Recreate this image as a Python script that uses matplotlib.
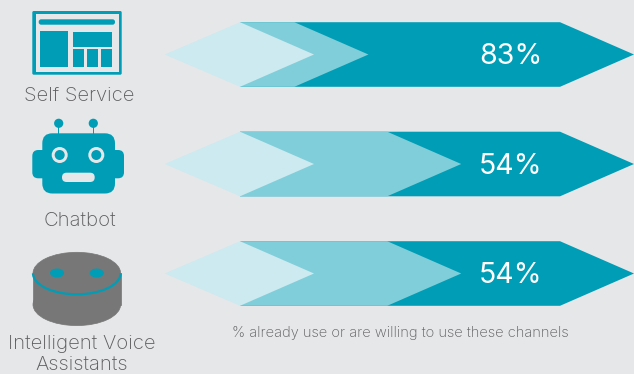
import matplotlib
matplotlib.use("Agg")
import matplotlib.pyplot as plt
from matplotlib.patches import Polygon, Rectangle, FancyBboxPatch, Circle, Ellipse, Arc

# chart data
channels = ["Self Service", "Chatbot", "Intelligent Voice\nAssistants"]
percent_use = [83, 54, 54]
note = "% already use or are willing to use these channels"

BG = "#e6e7e9"
DARK = "#009db6"
MID = "#80ced9"
LIGHT = "#cceaf0"
GREY = "#777777"
TEXT = "#5c5c5e"
FONT = "Inter"

W, H = 634, 374
fig = plt.figure(figsize=(W / 100, H / 100), dpi=100, facecolor=BG)

# pixel axes for the icons and labels
px = fig.add_axes([0, 0, 1, 1])
px.set_xlim(0, W)
px.set_ylim(H, 0)
px.axis("off")

# percent axes for the arrows: 0 is the tip of the pale arrow, 100 the right edge
UNIT = 3.2
bar = fig.add_axes([0, 0, 1, 1])
bar.set_xlim(-314 / UNIT, 100)
bar.set_ylim(H, 0)
bar.axis("off")
bar.patch.set_alpha(0)

centers = [54.5, 164, 273.5]
half_h = 32.3
head = 74 / UNIT
tail = 240 / UNIT - 314 / UNIT


def arrow(y, tip, color, point_left=False):
    pts = [(tail, y - half_h), (tip - head, y - half_h), (tip, y),
           (tip - head, y + half_h), (tail, y + half_h)]
    if point_left:
        pts.append((tail - head - 0.4, y))
    bar.add_patch(Polygon(pts, closed=True, fc=color, ec="none"))


for y, v in zip(centers, percent_use):
    arrow(y, 100, DARK)
    arrow(y, 100 - v, MID)
    arrow(y, 0, LIGHT, point_left=True)
    # value label sits in the dark part
    bar.text((511 - 314) / UNIT, y + 2, f"{v}%", color="white", fontsize=20.5,
             family=FONT, weight="normal", ha="center", va="center")


def rbox(x0, y0, x1, y1, r, color):
    px.add_patch(FancyBboxPatch((x0 + r, y0 + r), x1 - x0 - 2 * r, y1 - y0 - 2 * r,
                                boxstyle=f"round,pad={r},rounding_size={r}",
                                fc=color, ec="none"))


# browser window icon
rbox(32.3, 11, 121.7, 74.7, 1.5, DARK)
px.add_patch(Rectangle((35.5, 14.2), 83, 57.3, fc=BG, ec="none"))
rbox(38.7, 19.3, 115, 24.7, 2.5, DARK)
for x0, y0, x1, y1 in [(40.3, 31, 68.3, 66.7), (73.3, 32, 112, 46.7),
                       (73.3, 48.7, 84.3, 66.7), (87.3, 48.7, 98.3, 66.7),
                       (101, 48.7, 112, 66.7)]:
    px.add_patch(Rectangle((x0, y0), x1 - x0, y1 - y0, fc=DARK, ec="none"))

# robot icon
rbox(32.3, 150, 124, 178.3, 6, DARK)
rbox(42.3, 133.3, 115, 193.5, 10, DARK)
for x in (59.7, 96.3):
    px.add_patch(Circle((x, 155), 8, fc=BG, ec="none"))
    px.add_patch(Circle((x, 155), 5, fc=DARK, ec="none"))
for x in (58.7, 93.3):
    px.add_patch(Circle((x, 123.3), 4.6, fc=DARK, ec="none"))
    px.add_patch(Rectangle((x - 0.7, 125), 1.4, 10, fc=DARK, ec="none"))
rbox(62, 172.7, 94.7, 182, 4.6, BG)

# smart speaker icon
px.add_patch(Ellipse((76.8, 304.6), 87.6, 42, fc=GREY, ec=GREY, lw=0.5))
px.add_patch(Rectangle((33, 273.3), 87.6, 31.3, fc=GREY, ec=GREY, lw=0.5))
px.add_patch(Ellipse((76.8, 273.3), 87.6, 42, fc=GREY, ec=GREY, lw=0.5))
px.add_patch(Arc((76.8, 273.3), 87.6, 42, theta1=0, theta2=180, color=DARK, lw=1.6))
for x in (57, 96.7):
    px.add_patch(Ellipse((x, 273), 14, 9, fc=DARK, ec="none"))

# channel names
for (x, y), name in zip([(79, 96), (79.5, 221), (82, 354.5)], channels):
    px.text(x, y, name, color=TEXT, fontsize=14.6, family=FONT, weight="light",
            ha="center", va="center", linespacing=1.15)

px.text(400.5, 332.5, note, color=TEXT, fontsize=10.55, family=FONT, weight="light",
        ha="center", va="center")

fig.savefig("out.png", dpi=100, facecolor=BG)
